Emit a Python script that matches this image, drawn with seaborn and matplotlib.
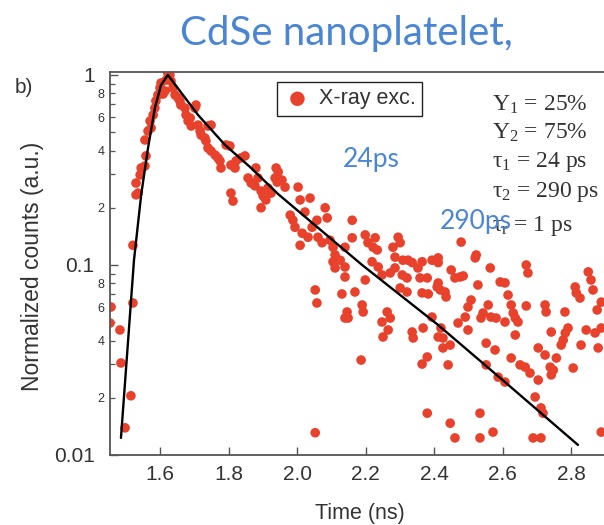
import numpy as np
import pandas as pd
import matplotlib
matplotlib.use("Agg")
import matplotlib.pyplot as plt
import seaborn as sns
from matplotlib.ticker import LogLocator, FuncFormatter, FixedLocator, NullFormatter

# ---------------- data ----------------
time_ns = [
    1.457, 1.454, 1.483, 1.521, 1.486, 1.515, 1.498,
    1.521, 1.530, 1.536, 1.530, 1.542, 1.545, 1.556, 1.559, 1.556, 1.565, 1.574, 1.571, 1.580,
    1.585, 1.588, 1.594, 1.600, 1.603, 1.615, 1.609, 1.618, 1.629, 1.623, 1.632, 1.638, 1.644,
    1.653, 1.658, 1.661, 1.673, 1.676, 1.688, 1.682, 1.702, 1.705, 1.691, 1.711, 1.717, 1.720,
    1.731, 1.740, 1.749, 1.734, 1.740, 1.749, 1.761, 1.769, 1.775, 1.778, 1.793, 1.804, 1.807,
    1.819, 1.822, 1.836, 1.848, 1.807, 1.813, 1.857, 1.866, 1.877, 1.880, 1.886, 1.895, 1.901,
    1.895, 1.909, 1.915, 1.924, 1.936, 1.939,
    1.945, 1.956, 1.965, 1.942, 2.003, 2.009, 2.038, 2.023, 1.980, 1.988, 1.994, 2.015, 2.032,
    2.009, 2.044, 2.058, 2.082, 2.088, 2.061, 2.073, 2.096, 2.105, 2.111, 2.126, 2.161, 2.161,
    2.140, 2.199, 2.207, 2.222, 2.228, 2.234, 2.280, 2.295, 2.301, 2.309, 2.286, 2.336, 2.365,
    2.412,
    2.105, 2.111, 2.140, 2.140, 2.053, 2.058, 2.131, 2.169, 2.199, 2.146, 2.140, 2.149, 2.190,
    2.193, 2.219, 2.237, 2.248, 2.272, 2.286, 2.307, 2.321, 2.263, 2.272, 2.248, 2.266, 2.251,
    2.301, 2.321, 2.336, 2.339, 2.353, 2.359, 2.380, 2.365, 2.383, 2.368, 2.394, 2.380, 2.365,
    2.187, 2.380, 2.053, 2.324, 2.394, 2.409, 2.412,
    2.479, 2.523, 2.520, 2.450, 2.412, 2.461, 2.476, 2.485, 2.564, 2.528, 2.593, 2.607, 2.669,
    2.674, 2.432, 2.435, 2.508, 2.499, 2.616, 2.558, 2.543, 2.625, 2.631, 2.669, 2.724, 2.727,
    2.782, 2.812, 2.815, 2.826, 2.850, 2.858, 2.864, 2.888, 2.412, 2.418,
    2.420, 2.426, 2.447, 2.426, 2.470, 2.499, 2.491, 2.537, 2.566, 2.581, 2.607, 2.637, 2.645,
    2.552, 2.578, 2.637, 2.441, 2.552, 2.625, 2.651, 2.666, 2.680, 2.704, 2.704, 2.724, 2.757,
    2.739, 2.748, 2.742, 2.587, 2.607, 2.742, 2.783, 2.777, 2.771, 2.791, 2.829, 2.806, 2.844,
    2.870, 2.888, 2.879, 2.695, 2.712, 2.718, 2.534, 2.447, 2.461, 2.534, 2.572, 2.689, 2.712,
    2.888, 2.876,
]
counts = [
    0.0601, 0.0495, 0.0455, 0.0631, 0.0305, 0.0205, 0.0139,
    0.127, 0.234, 0.239, 0.270, 0.298, 0.324, 0.332, 0.375, 0.455, 0.507, 0.526, 0.573, 0.616,
    0.670, 0.730, 0.785, 0.855, 0.908, 0.824, 0.794, 0.941, 1.00, 1.02, 0.930, 0.855, 0.785,
    0.757, 0.730, 0.695, 0.670, 0.616, 0.594, 0.573, 0.670, 0.695, 0.539, 0.545, 0.507, 0.483,
    0.466, 0.539, 0.545, 0.450, 0.413, 0.398, 0.379, 0.366, 0.353, 0.324, 0.428, 0.423, 0.336,
    0.324, 0.353, 0.366, 0.375, 0.239, 0.217, 0.287, 0.270, 0.261, 0.324, 0.287, 0.245, 0.231,
    0.200, 0.220, 0.254, 0.239, 0.287, 0.324,
    0.309, 0.280, 0.257, 0.273, 0.257, 0.220, 0.225, 0.190, 0.183, 0.172, 0.158, 0.147, 0.140,
    0.127, 0.158, 0.172, 0.200, 0.177, 0.140, 0.131, 0.135, 0.124, 0.113, 0.106, 0.172, 0.139,
    0.124, 0.144, 0.131, 0.124, 0.139, 0.120, 0.124, 0.140, 0.131, 0.106, 0.110, 0.103, 0.104,
    0.109,
    0.104, 0.0965, 0.0976, 0.0865, 0.0739, 0.0631, 0.0704, 0.0721, 0.0834, 0.0566, 0.0526, 0.0526, 0.0616,
    0.0566, 0.104, 0.0976, 0.0886, 0.0908, 0.0965, 0.0886, 0.0855, 0.0566, 0.0526, 0.0501, 0.0455, 0.0418,
    0.0757, 0.0721, 0.0444, 0.0413, 0.0965, 0.0855, 0.0855, 0.0713, 0.0704, 0.0466, 0.0532, 0.0328, 0.0301,
    0.0316, 0.0166, 0.0131, 0.106, 0.106, 0.0766, 0.0418,
    0.132, 0.113, 0.109, 0.0941, 0.103, 0.0855, 0.0865, 0.0876, 0.0965, 0.0785, 0.0814, 0.0805, 0.100,
    0.0908, 0.0721, 0.0679, 0.0654, 0.0601, 0.0695, 0.0616, 0.0559, 0.0616, 0.0559, 0.0609, 0.0616, 0.0566,
    0.0566, 0.0766, 0.0713, 0.0670, 0.0920, 0.0834, 0.0739, 0.0638, 0.0804, 0.0739,
    0.0466, 0.0413, 0.0379, 0.0366, 0.0495, 0.0455, 0.0532, 0.0526, 0.0532, 0.0526, 0.0501, 0.0526, 0.0501,
    0.0388, 0.0357, 0.0428, 0.0298, 0.0298, 0.0324, 0.0298, 0.0290, 0.0270, 0.0248, 0.0366, 0.0336, 0.0324,
    0.0290, 0.0280, 0.0264, 0.0257, 0.0242, 0.0444, 0.0439, 0.0403, 0.0379, 0.0466, 0.0379, 0.0287, 0.0455,
    0.0439, 0.0466, 0.0366, 0.0202, 0.0177, 0.0166, 0.0166, 0.0147, 0.0123, 0.0123, 0.0132, 0.0123, 0.0123,
    0.0132, 0.0580,
]
fit_time_ns = [1.486, 1.524, 1.545, 1.565, 1.585, 1.603, 1.623, 1.711, 1.790, 1.866,
               1.945, 2.190, 2.412, 2.607, 2.820]
fit_counts = [0.0123, 0.106, 0.234, 0.413, 0.670, 0.886, 1.0, 0.616, 0.428, 0.324,
              0.236, 0.100, 0.0483, 0.0242, 0.0113]

x_ticks = [1.6, 1.8, 2.0, 2.2, 2.4, 2.6, 2.8]
y_major_ticks = [0.01, 0.1, 1.0]
y_major_labels = ["0.01", "0.1", "1"]
series_label = "X-ray exc."
title_text = "CdSe nanoplatelet,"
param_lines = ["Y$_1$ = 25%", "Y$_2$ = 75%", "τ$_1$ = 24 ps", "τ$_2$ = 290 ps",
               "τ$_r$ = 1 ps"]

# ---------------- style ----------------
sns.set_theme(style="ticks")
plt.rcParams["font.family"] = ["Liberation Sans", "DejaVu Sans"]
plt.rcParams["mathtext.fontset"] = "custom"
plt.rcParams["mathtext.rm"] = "Liberation Serif"
plt.rcParams["mathtext.it"] = "Liberation Serif"
plt.rcParams["mathtext.bf"] = "Liberation Serif:bold"

RED = "#e8412c"
BLUE = "#4a86d4"
GREY = "#333333"
SPINE = "#555555"

W, H = 604, 525
fig = plt.figure(figsize=(W / 100, H / 100), dpi=100)
fig.patch.set_facecolor("white")
ax = fig.add_axes([110 / W, 1 - 455 / H, 494 / W, 383 / H])
ax.set_facecolor("white")

df = pd.DataFrame({"time": time_ns, "counts": counts})
fit_df = pd.DataFrame({"time": fit_time_ns, "counts": fit_counts})

sns.scatterplot(data=df, x="time", y="counts", color=RED, s=48, edgecolor="none",
                label=series_label, ax=ax, zorder=2)
sns.lineplot(data=fit_df, x="time", y="counts", color="black", linewidth=1.7,
             sort=False, estimator=None, legend=False, ax=ax, zorder=3)

ax.set_yscale("log")
ax.set_xlim(1.454, 2.896)
ax.set_ylim(0.01, 1.037)
ax.set_xlabel("")
ax.set_ylabel("")

ax.xaxis.set_major_locator(FixedLocator(x_ticks))
ax.xaxis.set_major_formatter(FuncFormatter(lambda v, p: f"{v:.1f}"))
ax.yaxis.set_major_locator(FixedLocator(y_major_ticks))
ax.yaxis.set_major_formatter(FuncFormatter(
    lambda v, p: dict(zip(y_major_ticks, y_major_labels)).get(v, "")))
ax.yaxis.set_minor_locator(LogLocator(base=10, subs=np.arange(2, 10)))


def minor_fmt(v, p):
    m = v / 10 ** np.floor(np.log10(v) + 1e-9)
    m = int(round(m))
    return str(m) if m in (2, 4, 6, 8) else ""


ax.yaxis.set_minor_formatter(FuncFormatter(minor_fmt))
ax.xaxis.set_minor_formatter(NullFormatter())

ax.tick_params(axis="x", which="major", direction="in", length=6, width=1.0,
               color=SPINE, labelsize=15, labelcolor=GREY, pad=7)
ax.tick_params(axis="y", which="major", direction="in", length=6, width=1.0,
               color=SPINE, labelsize=15, labelcolor=GREY, pad=11)
ax.tick_params(axis="y", which="minor", direction="in", length=3.5, width=0.9,
               color=SPINE, labelsize=9, labelcolor=GREY, pad=4)

for side in ["left", "bottom", "top"]:
    ax.spines[side].set_color(SPINE)
    ax.spines[side].set_linewidth(1.3)
ax.spines["right"].set_visible(False)

leg = ax.legend(loc="upper left", bbox_to_anchor=(0.338, 0.974), frameon=True,
                fancybox=False, edgecolor="#222222", framealpha=1, fontsize=15.5,
                handletextpad=0.35, borderpad=0.3, markerscale=1.5,
                handlelength=1.3, borderaxespad=0)
leg.get_frame().set_linewidth(1.0)
for t in leg.get_texts():
    t.set_color(GREY)

# ---------------- texts ----------------
fig.text(346 / W, 1 - 33 / H, title_text, ha="center", va="center",
         fontsize=29, color=BLUE, family=["Lato", "DejaVu Sans"])
fig.text(33 / W, 1 - 266 / H, "Normalized counts (a.u.)", rotation=90,
         ha="center", va="center", fontsize=16.5, color=GREY)
fig.text(360 / W, 1 - 514 / H, "Time (ns)", ha="center", va="center",
         fontsize=15.5, color=GREY)
fig.text(33 / W, 1 - 88 / H, "b)", ha="right", va="center", fontsize=15, color=GREY)

for line, yc in zip(param_lines, [105, 133, 162, 192, 226]):
    fig.text(492 / W, 1 - yc / H, line, ha="left", va="center", fontsize=17,
             color=GREY, family=["Liberation Serif", "DejaVu Serif"], zorder=5)

fig.text(371 / W, 1 - 160 / H, "24ps", ha="center", va="center", fontsize=19,
         color=BLUE, family=["Lato", "DejaVu Sans"], zorder=6)
fig.text(476 / W, 1 - 222 / H, "290ps", ha="center", va="center", fontsize=19,
         color=BLUE, family=["Lato", "DejaVu Sans"], zorder=6)

fig.savefig("out.png", dpi=100, facecolor="white")
